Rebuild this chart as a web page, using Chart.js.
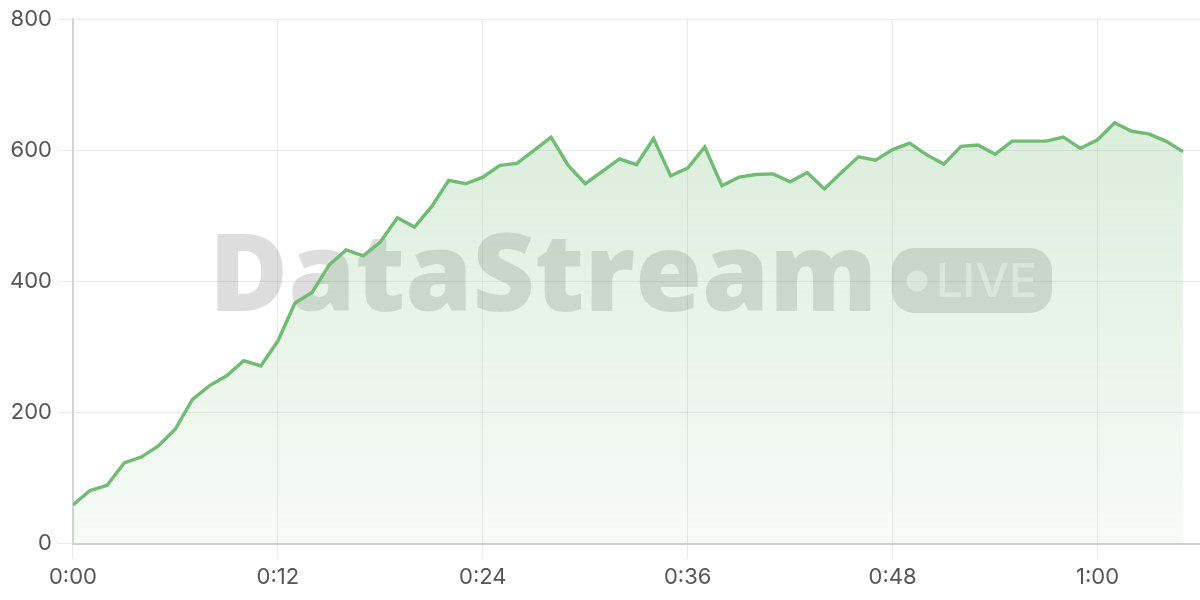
<!DOCTYPE html>
<html>
<head>
<meta charset="utf-8">
<script src="https://cdn.jsdelivr.net/npm/chart.js@4.4.1/dist/chart.umd.min.js"></script>
<style>
  html, body { margin: 0; padding: 0; background: #fff; }
  #wrap { width: 1200px; height: 600px; }
</style>
</head>
<body>
<div id="wrap"><canvas id="streamChart" width="1200" height="600"></canvas></div>
<script>
// one reading per second, 0:00 .. 1:05
const throughput = [
  59, 81, 89, 123, 132, 149, 175, 220, 241, 256,
  279, 271, 309, 367, 383, 425, 448, 439, 460, 497,
  483, 514, 554, 549, 559, 577, 580, 600, 620, 577,
  549, 568, 587, 578, 618, 561, 573, 605, 546, 559,
  563, 564, 552, 566, 541, 566, 590, 585, 601, 611,
  593, 579, 606, 608, 594, 614, 614, 614, 620, 603,
  616, 642, 629, 625, 614, 598
];
const xTicks = [0, 12, 24, 36, 48, 60];
const yTicks = [0, 200, 400, 600, 800];

const fmtTime = s => Math.floor(s / 60) + ':' + String(s % 60).padStart(2, '0');

// watermark drawn behind the series
const watermark = {
  id: 'watermark',
  beforeDatasetsDraw(chart) {
    const { ctx } = chart;
    ctx.save();
    ctx.fillStyle = 'rgba(0,0,0,0.135)';
    ctx.font = '800 108px "Open Sans"';
    ctx.textBaseline = 'alphabetic';
    ctx.textAlign = 'left';
    ctx.fillText('DataStream', 209, 311);

    // LIVE badge
    const bx = 892, by = 248, bw = 160, bh = 65, r = 22;
    ctx.beginPath();
    ctx.roundRect(bx, by, bw, bh, r);
    ctx.fill();
    ctx.fillStyle = 'rgba(255,255,255,0.55)';
    ctx.beginPath();
    ctx.arc(917, 281, 10.5, 0, Math.PI * 2);
    ctx.fill();
    ctx.font = '500 47px Inter';
    ctx.fillText('LIVE', 936, 297);
    ctx.restore();
  }
};

const ctx = document.getElementById('streamChart');
new Chart(ctx, {
  type: 'line',
  data: {
    datasets: [{
      data: throughput.map((v, i) => ({ x: i, y: v })),
      borderColor: '#72bb74',
      borderWidth: 3.4,
      pointRadius: 0,
      tension: 0,
      fill: 'origin',
      backgroundColor: (c) => {
        const area = c.chart.chartArea;
        if (!area) return 'rgba(114,187,116,0.2)';
        const g = c.chart.ctx.createLinearGradient(0, area.top, 0, area.bottom);
        g.addColorStop(0, 'rgba(114,187,116,0.30)');
        g.addColorStop(1, 'rgba(114,187,116,0.06)');
        return g;
      }
    }]
  },
  options: {
    responsive: false,
    animation: false,
    layout: { padding: { top: 9, right: 0, bottom: 3, left: 4 } },
    plugins: { legend: { display: false }, tooltip: { enabled: false } },
    scales: {
      x: {
        type: 'linear',
        min: 0,
        max: 66,
        afterBuildTicks: (axis) => { axis.ticks = xTicks.map(v => ({ value: v })); },
        grid: { color: 'rgba(0,0,0,0.08)', tickLength: 15, drawTicks: true },
        border: { color: '#cfcfcf', width: 2 },
        ticks: {
          color: '#555',
          font: { family: 'Inter', size: 22 },
          padding: 6,
          maxRotation: 0,
          callback: v => fmtTime(v)
        }
      },
      y: {
        min: 0,
        max: 800,
        afterBuildTicks: (axis) => { axis.ticks = yTicks.map(v => ({ value: v })); },
        grid: { color: 'rgba(0,0,0,0.08)', tickLength: 15 },
        border: { color: '#d4d4d4', width: 2 },
        ticks: {
          color: '#555',
          font: { family: 'Inter', size: 22 },
          padding: 6
        }
      }
    }
  },
  plugins: [watermark]
});
</script>
</body>
</html>
